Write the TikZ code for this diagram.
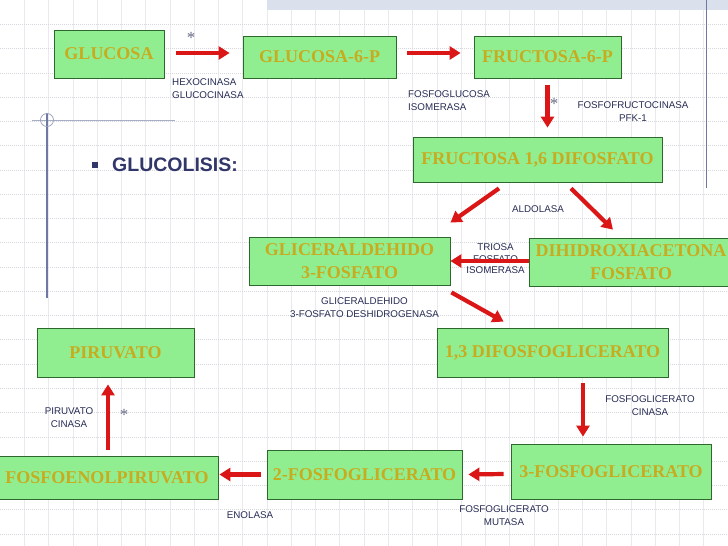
\documentclass[tikz,border=0pt]{standalone}
\usepackage{fontspec}
\setmainfont{Liberation Serif}
\newfontfamily\labfam{Liberation Sans}
\usetikzlibrary{arrows.meta,calc}
\definecolor{boxfill}{RGB}{144,238,144}
\definecolor{boxborder}{RGB}{45,105,45}
\definecolor{boxtext}{RGB}{200,172,32}
\definecolor{labcol}{RGB}{40,45,85}
\definecolor{arrred}{RGB}{218,22,22}
\definecolor{gridcol}{RGB}{234,234,238}
\definecolor{hgridcol}{RGB}{215,215,222}
\definecolor{framecol}{RGB}{110,120,160}
\definecolor{bandcol}{RGB}{218,224,236}
\definecolor{headcol}{RGB}{50,55,105}
\tikzset{
  mbox/.style={draw=boxborder, fill=boxfill, line width=0.8pt, text=boxtext,
    font=\fontsize{18}{23}\selectfont\bfseries, inner sep=0pt, align=center},
  lbl/.style={text=labcol, font=\labfam\fontsize{9.8}{12.8}\selectfont, inner sep=0pt},
  starlbl/.style={text=labcol!70!white, font=\fontsize{17}{17}\selectfont, inner sep=0pt},
  arr/.style={draw=arrred, line width=4.2pt, -{Triangle[length=11pt,width=13pt]}},
}
\begin{document}
\begin{tikzpicture}[x=1pt,y=-1pt]
\useasboundingbox (0,0) rectangle (728,546);
\fill[white] (0,0) rectangle (728,546);
% background grid
\foreach \i in {1,...,29} {
  \draw[gridcol, line width=0.6pt] ({\i*24.267},0) -- ({\i*24.267},546);
}
\foreach \j in {1,...,22} {
  \draw[hgridcol, line width=0.6pt, dash pattern=on 1pt off 1pt] (0,{\j*24.267}) -- (728,{\j*24.267});
}
% slide decorations
\fill[bandcol] (267,0) rectangle (728,10);
\draw[framecol, line width=1pt] (706,0) -- (706,188);
\draw[framecol!60!white, line width=0.7pt] (32,120) -- (175,120);
\draw[framecol, line width=1.2pt] (47,113) -- (47,298);
\draw[framecol!70!white, line width=0.7pt] (47,120) circle (6.5);
% title
\fill[headcol] (92,162) rectangle (98,168);
\node[text=headcol, font=\labfam\fontsize{19.5}{20}\selectfont\bfseries, anchor=west, inner sep=0pt] (title) at (112,164.5) {GLUCOLISIS:};
% boxes
\node[mbox, minimum width=110, minimum height=48] (glu) at (109,54) {GLUCOSA};
\node[mbox, minimum width=153, minimum height=42] (g6p) at (319.5,57) {GLUCOSA-6-P};
\node[mbox, minimum width=147, minimum height=42] (f6p) at (547.5,57) {FRUCTOSA-6-P};
\node[mbox, minimum width=249, minimum height=45] (f16) at (537.5,159.5) {FRUCTOSA 1,6 DIFOSFATO};
\node[mbox, minimum width=201, minimum height=48] (ga3p) at (349.5,261) {GLICERALDEHIDO\\3-FOSFATO};
\node[mbox, minimum width=204, minimum height=48] (dhap) at (631,262) {DIHIDROXIACETONA\\FOSFATO};
\node[mbox, minimum width=231, minimum height=49] (bpg) at (552.5,352.5) {1,3 DIFOSFOGLICERATO};
\node[mbox, minimum width=157, minimum height=49] (pyr) at (115.5,352.5) {PIRUVATO};
\node[mbox, minimum width=200, minimum height=55] (pg3) at (611,471.5) {3-FOSFOGLICERATO};
\node[mbox, minimum width=195, minimum height=49] (pg2) at (364.5,474.5) {2-FOSFOGLICERATO};
\node[mbox, minimum width=222, minimum height=43] (pep) at (107,477.5) {FOSFOENOLPIRUVATO};
% enzyme labels
\node[starlbl] (s1) at (191,38) {*};
\node[lbl, anchor=west, align=left] (hex) at (172,89) {HEXOCINASA\\GLUCOCINASA};
\node[lbl, anchor=west, align=left] (pgi) at (408,101) {FOSFOGLUCOSA\\ISOMERASA};
\node[starlbl] (s2) at (554,104) {*};
\node[lbl, align=center] (pfk) at (633,111.5) {FOSFOFRUCTOCINASA\\PFK-1};
\node[lbl] (ald) at (538,209.5) {ALDOLASA};
\node[lbl, align=center, font=\labfam\fontsize{9.8}{11.5}\selectfont] (tpi) at (495.5,259) {TRIOSA\\FOSFATO\\ISOMERASA};
\node[lbl, align=center] (gapdh) at (364.5,308) {GLICERALDEHIDO\\3-FOSFATO DESHIDROGENASA};
\node[lbl, align=center] (pgk) at (650,405.5) {FOSFOGLICERATO\\CINASA};
\node[lbl, align=center] (pgm) at (504,515.5) {FOSFOGLICERATO\\MUTASA};
\node[lbl] (eno) at (250,515.5) {ENOLASA};
\node[lbl, align=center] (pk) at (69,417.5) {PIRUVATO\\CINASA};
\node[starlbl] (s3) at (124,415) {*};
% arrows
\draw[arr] ([xshift=12pt,yshift=1pt]glu.east) -- ([xshift=-13pt,yshift=1pt]glu.east -| g6p.west);
\draw[arr] ([xshift=11pt,yshift=4pt]g6p.east) -- ([xshift=-13pt,yshift=4pt]f6p.west);
\draw[arr] ([yshift=-7pt]f6p.south) -- ([yshift=9pt]f6p.south |- f16.north);
\draw[arr] ([xshift=-38.5pt,yshift=-6pt]f16.south) -- ([yshift=14pt]ga3p.north east);
\draw[arr] ([xshift=33.5pt,yshift=-6pt]f16.south) -- ([xshift=-18pt,yshift=8pt]dhap.north);
\draw[arr] ([yshift=1pt]dhap.west) -- ([yshift=1pt]dhap.west -| ga3p.east);
\draw[arr] ([xshift=1pt,yshift=-7pt]ga3p.south east) -- ([xshift=67pt,yshift=6pt]bpg.north west);
\draw[arr] ([xshift=30.5pt,yshift=-6pt]bpg.south) -- ([xshift=-28pt,yshift=7pt]pg3.north);
\draw[arr] ([xshift=-7pt,yshift=-2.5pt]pg3.west) -- ([xshift=6pt]pg2.east);
\draw[arr] ([xshift=-6pt]pg2.west) -- ([xshift=1pt]pg2.west -| pep.east);
\draw[arr] ([xshift=1pt,yshift=6pt]pep.north) -- ([xshift=1pt,yshift=-7pt]pep.north |- pyr.south);
\end{tikzpicture}
\end{document}
